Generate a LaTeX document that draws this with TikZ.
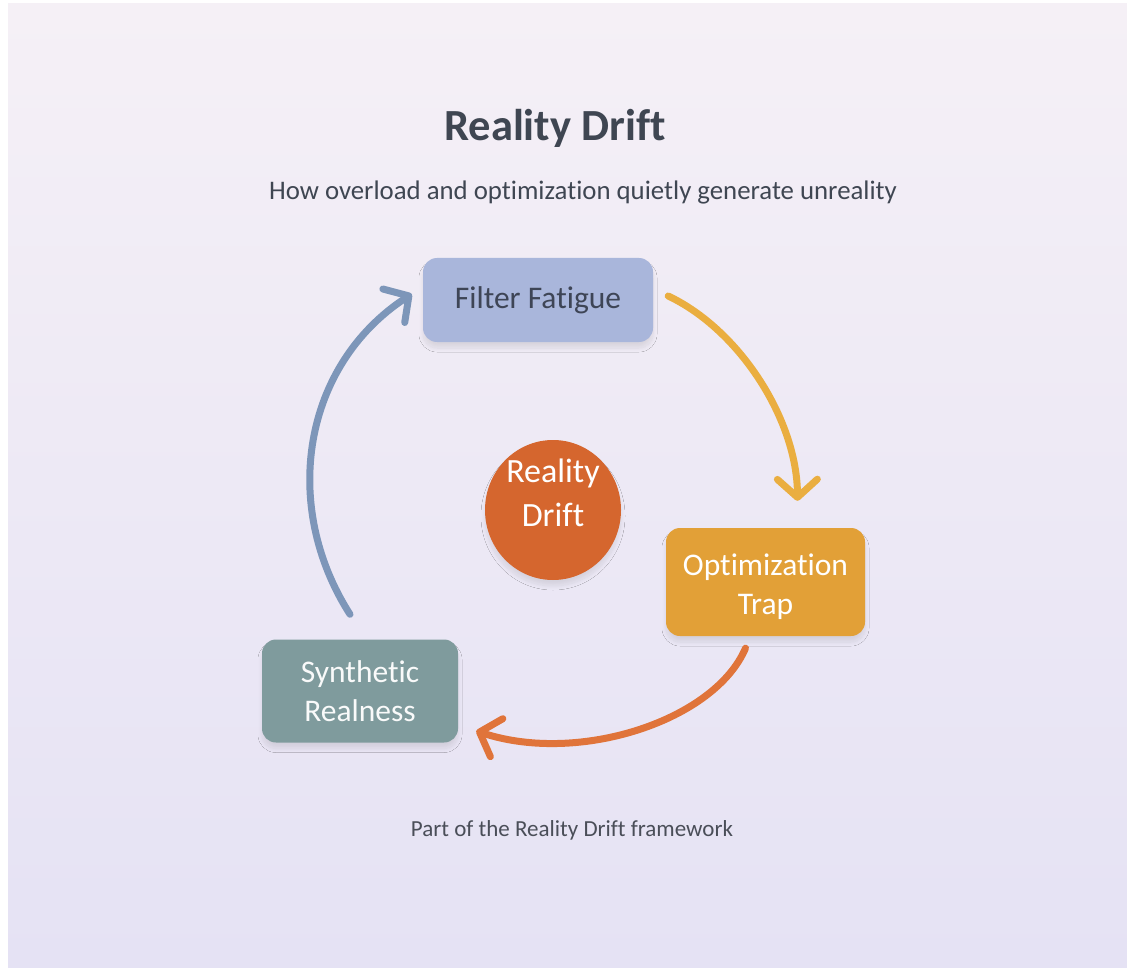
\documentclass[tikz,border=0pt]{standalone}
\usepackage{fontspec}
\setmainfont{Carlito}[Ligatures=NoCommon]
\usetikzlibrary{arrows.meta,shadows.blur,calc,shapes.geometric}
\definecolor{bgtop}{HTML}{F5F0F6}
\definecolor{bgbot}{HTML}{E5E2F4}
\definecolor{ffill}{HTML}{A9B6DB}
\definecolor{ftext}{HTML}{3E4556}
\definecolor{ofill}{HTML}{E2A037}
\definecolor{sfill}{HTML}{7F9B9D}
\definecolor{cfill}{HTML}{D5662E}
\definecolor{barrow}{HTML}{7D96B9}
\definecolor{yarrow}{HTML}{EAAE40}
\definecolor{oarrow}{HTML}{E0743A}
\definecolor{titlec}{HTML}{3F4652}
\definecolor{footc}{HTML}{4A4E58}
\tikzset{
  softshadow/.style={blur shadow={shadow blur steps=10, shadow xshift=0pt, shadow yshift=-6pt, shadow opacity=9, shadow blur radius=4pt}},
  stagebox/.style={rounded corners=14pt, align=center, inner sep=0pt, softshadow},
  cycarrow/.style={line width=7pt, line cap=round, -{Straight Barb[length=18pt,width=40pt,round]}},
  boxtext/.style={font=\fontsize{31.5}{39}\selectfont},
}
\begin{document}
\begin{tikzpicture}[x=1pt,y=-1pt]
\fill[white] (0,0) rectangle (1127,968);
\shade[top color=bgtop, bottom color=bgbot] (8,4) rectangle (1127,968);
\useasboundingbox (0,0) rectangle (1127,968);

\node[font=\fontsize{44.5}{48}\selectfont\bfseries, text=titlec] (title) at (555,128) {Reality Drift};
\node[font=\fontsize{26.8}{30}\selectfont, text=titlec] (sub) at (583,193) {How overload and optimization quietly generate unreality};

\node[stagebox, fill=ffill, text=ftext, boxtext, minimum width=230pt, minimum height=84pt] (ff) at (538,300) {Filter Fatigue};
\node[stagebox, fill=ofill, minimum width=199pt, minimum height=108pt,
  label={[text=white, boxtext, align=center, yshift=-5pt]center:{Optimization\\Trap}}] (opt) at (765.5,582) {};
\node[stagebox, fill=sfill, text=white!95!sfill, boxtext, minimum width=196pt, minimum height=103pt] (syn) at (360,691) {Synthetic\\Realness};
\node[ellipse, fill=cfill, minimum width=136pt, minimum height=140pt, inner sep=0pt, softshadow,
  label={[text=white, font=\fontsize{34}{44}\selectfont, align=center, yshift=17pt]center:{Reality\\Drift}}] (core) at (553,510) {};

\draw[cycarrow, barrow] ([shift={(-10,-25)}]syn.north) .. controls (280,505) and (303,365) .. ([shift={(-11,-6)}]ff.west);
\draw[cycarrow, yarrow] ([shift={(15,-4)}]ff.east) .. controls (740,330) and (797,420) .. ([shift={(32,-27)}]opt.north);
\draw[cycarrow, oarrow] ([shift={(-20,12)}]opt.south) .. controls (715,720) and (580,765) .. ([shift={(18,40)}]syn.east);

\node[font=\fontsize{23}{26}\selectfont, text=footc] (foot) at (572,830) {Part of the Reality Drift framework};
\end{tikzpicture}
\end{document}
